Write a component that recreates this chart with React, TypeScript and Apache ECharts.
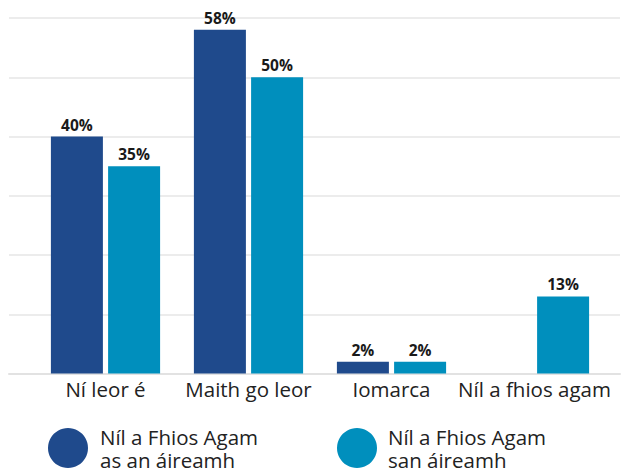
import React, { useEffect, useRef } from "react";
import * as echarts from "echarts";

const categories = ["Ní leor é", "Maith go leor", "Iomarca", "Níl a fhios agam"];
const seriesNames = ["Níl a Fhios Agam\nas an áireamh", "Níl a Fhios Agam\nsan áireamh"];
const excludedValues: (number | null)[] = [40, 58, 2, null];
const includedValues: (number | null)[] = [35, 50, 2, 13];
const colors = ["#1f4a8c", "#008fbd"];

export default function App() {
  const ref = useRef<HTMLDivElement>(null);
  useEffect(() => {
    if (!ref.current) return;
    const chart = echarts.init(ref.current, null, { renderer: "svg" });
    const font = "'Open Sans', 'Noto Sans', sans-serif";
    const label = {
      show: true,
      position: "top" as const,
      distance: 4,
      formatter: "{c}%",
      fontFamily: font,
      fontWeight: "bold" as const,
      fontSize: 15.5,
      color: "#1a1a1a",
    };
    chart.setOption({
      animation: false,
      textStyle: { fontFamily: font },
      grid: [
        { left: 34, width: 572, top: 18, height: 355.5 },
        { left: 9, right: 2, top: 18, height: 355.5 },
      ],
      xAxis: [
        {
          type: "category",
          gridIndex: 0,
          data: categories,
          axisLine: { show: false },
          axisTick: { show: false },
          axisLabel: { fontSize: 20.5, color: "#222", margin: 5, fontFamily: font, interval: 0 },
        },
        {
          type: "category",
          gridIndex: 1,
          data: ["a"],
          axisLine: { show: true, lineStyle: { color: "#e2e2e2", width: 2 } },
          axisTick: { show: false },
          axisLabel: { show: false },
        },
      ],
      yAxis: [
        {
          type: "value",
          gridIndex: 0,
          min: 0,
          max: 60,
          interval: 10,
          show: false,
          splitLine: { show: false },
        },
        {
          type: "value",
          gridIndex: 1,
          min: 0,
          max: 60,
          interval: 10,
          axisLine: { show: false },
          axisTick: { show: false },
          axisLabel: { show: false },
          splitLine: { show: true, lineStyle: { color: "#e6e6e6", width: 1.5 } },
        },
      ],
      legend: [
        {
          data: [seriesNames[0]],
          left: 48,
          top: 425,
          padding: 0,
          icon: "circle",
          itemWidth: 40,
          itemHeight: 40,
          textStyle: { fontSize: 20.5, lineHeight: 23, color: "#222", fontFamily: font, padding: [0, 0, 0, 7] },
        },
        {
          data: [seriesNames[1]],
          left: 337,
          top: 425,
          padding: 0,
          icon: "circle",
          itemWidth: 40,
          itemHeight: 40,
          textStyle: { fontSize: 20.5, lineHeight: 23, color: "#222", fontFamily: font, padding: [0, 0, 0, 6] },
        },
      ],
      series: [
        {
          name: seriesNames[0],
          type: "bar",
          xAxisIndex: 0,
          yAxisIndex: 0,
          data: excludedValues,
          barWidth: 52,
          barGap: "10%",
          itemStyle: { color: colors[0] },
          label,
        },
        {
          name: seriesNames[1],
          type: "bar",
          xAxisIndex: 0,
          yAxisIndex: 0,
          data: includedValues,
          barWidth: 52,
          barGap: "10%",
          itemStyle: { color: colors[1] },
          label,
        },
      ],
    });
    return () => chart.dispose();
  }, []);
  return <div ref={ref} style={{ width: 622, height: 468, position: "absolute", left: 0, top: 0 }} />;
}
